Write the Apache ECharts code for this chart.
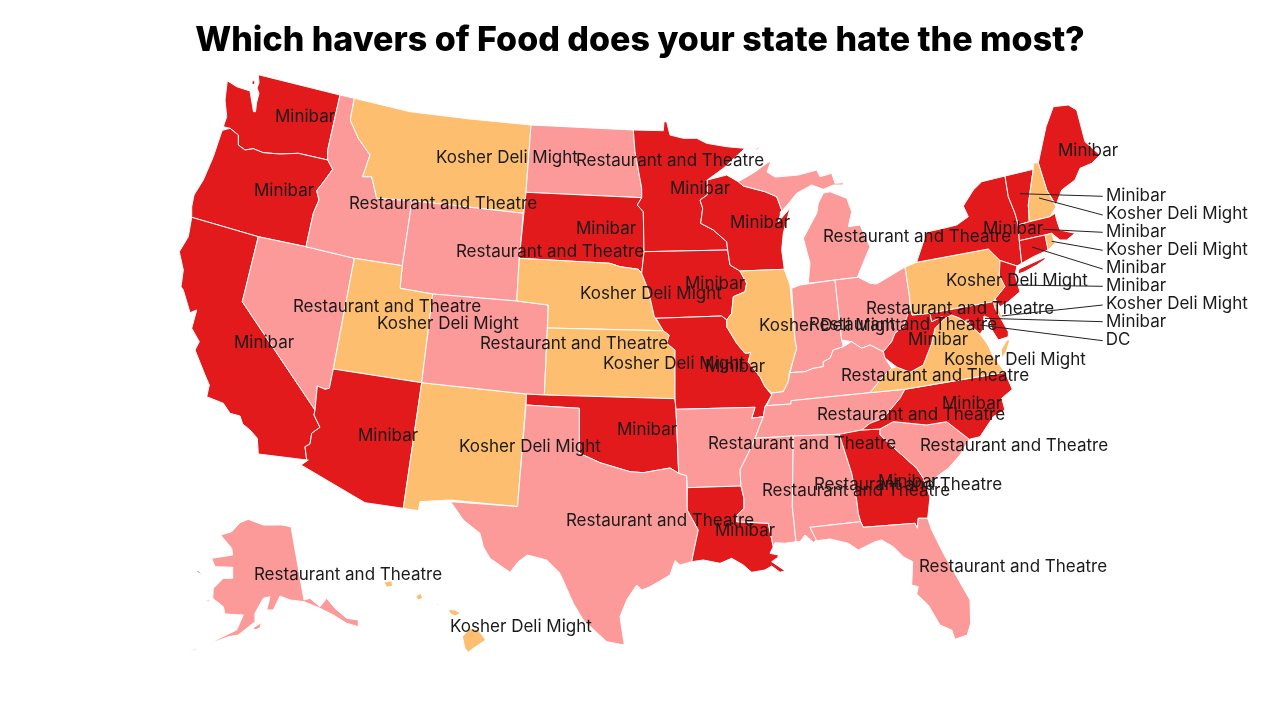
<!DOCTYPE html>
<html>
<head>
<meta charset="utf-8">
<title>Which havers of Food does your state hate the most?</title>
<style>
html,body{margin:0;padding:0;background:#fff}
#chart{width:1280px;height:720px}
</style>
<script src="https://cdn.jsdelivr.net/npm/echarts@6/dist/echarts.min.js"></script>
</head>
<body>
<div id="chart"></div>
<script>
var titleText = "Which havers of Food does your state hate the most?";
var M = "Minibar", K = "Kosher Deli Might", R = "Restaurant and Theatre";
var groupColors = {"Minibar":"#E31A1C", "Kosher Deli Might":"#FDBF6F", "Restaurant and Theatre":"#FB9A99", "DC":"#E31A1C"};

var stateCodes = ["WA","OR","CA","NV","ID","MT","WY","UT","AZ","NM","CO","ND","SD","NE","KS","OK","TX","MN","IA","MO","AR","LA","WI","IL","MI","IN","OH","KY","TN","MS","AL","GA","FL","SC","NC","VA","WV","PA","NY","ME","VT","NH","MA","RI","CT","NJ","DE","MD","DC","AK","HI"];
var stateGroups = [M,M,M,R,R,K,R,K,M,K,R,R,M,K,K,M,R,M,M,M,R,M,M,K,R,R,R,R,R,R,R,M,R,R,M,K,M,K,M,M,M,K,M,K,M,M,K,M,"DC",R,K];

// where each state's label sits (map space, same as the picture)
var labelAt = {WA:[305,117],OR:[284,191],CA:[264,343],NV:[387,307],ID:[443,204],MT:[507,158],WY:[550,252],UT:[448,324],AZ:[388,436],NM:[530,447],CO:[574,344],ND:[670,161],SD:[606,229],NE:[651,294],KS:[674,364],OK:[647,430],TX:[660,521],MN:[700,189],IA:[715,284],MO:[735,367],AR:[802,444],LA:[745,531],WI:[760,223],IL:[830,326],MI:[917,237],IN:[903,325],OH:[960,309],KY:[935,376],TN:[911,415],MS:[856,491],AL:[908,485],GA:[908,482],FL:[1013,567],SC:[1014,446],NC:[972,404],VA:[1015,360],WV:[938,340],PA:[1017,281],NY:[1013,229],ME:[1088,151],VT:[1136,196],NH:[1177,214],MA:[1136,232],RI:[1177,250],CT:[1136,268],NJ:[1136,286],DE:[1177,304],MD:[1136,322],DC:[1118,340],AK:[348,575],HI:[521,627]};

// leader lines for the small north east states: from state to label
var leaderStates = ["VT","NH","MA","RI","CT","NJ","DE","MD","DC"];
var leaderFrom = [[1020,193.7],[1039,198],[1043,229.3],[1051.7,241.3],[1032,247],[1010,285],[1001.7,316],[985,318.3],[980,325]];
var leaderTo = [[1102.7,196.3],[1102.7,215],[1102.7,232.3],[1102.7,250.3],[1102.7,269],[1102.7,286.3],[1102.7,305],[1102.7,321.7],[1102.7,340.7]];

// state outlines, x,y pairs, one string per ring
var stateRings = {
WA:["258.3,74.7 340,95 327.7,150 327.7,160 298.3,153.3 280,154 263.3,152.7 253.3,148.7 245,150 238.3,145 238.3,135 230,128.3 223.3,126.7 226.7,116.7 225,100 227.3,80.7 236.7,86.7 250,91 253.5,111.7 255.5,111.7 256.5,103 259,93.3 257,88 259,83","252,81 255,80.5 254.5,85 252,84"],
OR:["223.3,130 230,128.3 238.3,135 238.3,145 245,150 253.3,148.7 263.3,152.7 280,154 298.3,153.3 327.7,160 332.7,169.3 325,180 316.7,190.7 319,200 313.3,213.3 306,246.7 258.3,236.7 191.7,217.3 191.7,206.7 194,195 203.3,180 213.3,156.7 221.7,131.7"],
CA:["191.7,217.3 258.3,236.7 242.3,301.7 315,410 314,415 320,427.3 311.7,433.3 310,444 305,446.7 306.7,460 258.3,454 257.3,438.3 250,430 242.7,424 240,416 230,413.3 223.3,403.3 206.7,396.7 209.3,385 205,375 195,350 199.3,341.7 191.7,328.3 196.7,310 190,312.7 183.3,290 181,286.7 183.3,270 179.3,251.7 188.3,236.7"],
NV:["258.3,236.7 306,246.7 354.3,258.3 348.3,290 333.3,369 329.3,388.3 325,389.3 317.3,386 315,410 242.3,301.7"],
ID:["340,95 354.3,98.3 350.3,120 358.3,138.3 370,155 362.7,176.7 371.7,176.7 376.7,198.3 412,200.7 402.3,265.7 354.3,258.3 306,246.7 313.3,213.3 319,200 316.7,190.7 325,180 332.7,169.3 327.7,160 327.7,150"],
MT:["354.3,98.3 410,111.7 470,119 531,125 526,192.3 523.3,213.3 412,200.7 376.7,198.3 371.7,176.7 362.7,176.7 370,155 358.3,138.3 350.3,120"],
WY:["412,200.7 523.3,213.3 519.3,258.3 516.7,301 432.7,294 400,288.3 402.3,265.7"],
UT:["402.3,265.7 400,288.3 432.7,294 421.7,382.7 333.3,369 348.3,290 354.3,258.3"],
AZ:["333.3,369 421.7,382.7 403.3,508.3 365,502.7 301,465 308.3,460 306.7,460 305,446.7 310,444 311.7,433.3 320,427.3 314,415 315,410 317.3,386 325,389.3 329.3,388.3"],
NM:["421.7,382.7 526.5,394 517.5,506.5 450,500 420,501.7 418.3,510.7 403.3,508.3"],
CO:["432.7,294 516.7,301 548.3,305 544.3,395 526.5,394 421.7,382.7"],
ND:["531,125 633.3,130 635,151.7 641.7,188.3 641.7,197.7 526,192.3"],
SD:["526,192.3 641.7,197.7 637.3,205 643.3,211.7 644,251.7 641.7,273.3 638.3,269.3 620,266.7 610,263.3 519.3,258.3"],
NE:["519.3,258.3 610,263.3 620,266.7 638.3,269.3 641.7,273.3 648.3,290 654.3,316.7 663.3,330.7 547.5,328 548.3,305 516.7,301"],
KS:["547.5,328 663.3,330.7 669.3,335 666.7,343.3 675,350 675,398.7 544.3,395"],
OK:["526.5,394 544.3,395 675,398.7 676,409.3 678.7,473.3 670,468 643.3,472.7 630,471.7 613.3,466.7 600,462.7 583.3,455 579.3,453.3 579.3,408.3 526,405"],
TX:["526,405 579.3,408.3 579.3,453.3 583.3,455 600,462.7 613.3,466.7 630,471.7 643.3,472.7 670,468 678.7,473.3 686.7,475.7 687.3,510 698.3,530 694,550 691.7,561.7 680,565 675,560.7 670,575 650,586.7 641.7,590 636.7,585 626.7,600 620,616.7 624.3,645 606.7,641.7 583.3,620 573.3,603.3 560,573.3 546.7,560 527.3,555 518.3,561.7 510,572.3 490,558.3 483.3,546.7 480,533.3 463.3,520 450.7,501.7 517.5,506.5"],
MN:["633.3,130 663.3,130.7 664,121.7 666.7,121.7 670,135 683.3,138.3 696.7,138.3 706.7,143.3 726.7,146.7 745,148.3 723.3,168.3 707.3,180 707.3,195 700,200 702.7,208.3 700.7,223.3 713.3,230 726.7,241.7 727.7,250 644,251.7 643.3,211.7 637.3,205 641.7,197.7 641.7,188.3 635,151.7"],
IA:["644,251.7 727.7,250 730,265 740,271 746.7,283.3 745,291.7 733.3,296.7 731.7,313.3 726.7,320 721.7,316 656,318.3 654.3,316.7 648.3,290 641.7,273.3"],
MO:["656,318.3 721.7,316 726.7,320 726.7,326.7 736.7,343.3 745,353.3 750.7,352.7 748.3,361.7 760,376.7 765,386.7 771.7,395 765,406.7 763.3,416.7 751.7,418.3 755,407.3 676,409.3 675,398.7 675,350 666.7,343.3 669.3,335 663.3,330.7"],
AR:["676,409.3 755,407.3 751.7,418.3 763.3,416.7 755,438.3 748.3,453.3 740,470 741,486 687.3,487.7 686.7,475.7 678.7,473.3"],
LA:["687.3,487.7 741,486 744,498.3 744,508.3 737.3,515 736.7,521.7 768.3,523.3 773.3,546.7 770,553.3 778.3,555 778,557.3 771.7,561.7 785,570.7 780,572.3 771.7,566 765,570 751.7,572.3 743.3,565 731.7,558.3 720,563.3 703.3,560 691.7,561.7 694,550 698.3,530 687.3,510"],
WI:["707.3,180 726.7,175 738.3,181.7 743.3,186 765,191.7 776.7,196.7 781.7,210 778.3,221.7 790,208.3 783.3,233.3 781.7,250 784.3,269.3 740,271 730,265 727.7,250 726.7,241.7 713.3,230 700.7,223.3 702.7,208.3 700,200 707.3,195"],
IL:["740,271 784.3,269.3 790,285 795,340 796.7,348.3 793.3,360 789.3,373.3 788.3,381.7 783.3,391.7 771.7,393 765,386.7 760,376.7 748.3,361.7 750.7,352.7 745,353.3 736.7,343.3 726.7,326.7 726.7,320 731.7,313.3 733.3,296.7 745,291.7 746.7,283.3"],
MI:["823.3,193.3 830,191.7 846.7,198.3 851.7,211.7 848.3,226.7 860,225 870,246.7 861.7,266.7 857.3,277.3 808.3,283.3 810,263.3 803.3,238.3 816.7,213.3 818.3,203.3","738.3,181.7 755,172 767,163 771,161 767,172 775,177 780,176.7 798.3,175 816.7,170 820,176.7 831.7,173.3 835,183.3 843.3,182.7 843.3,185 833.3,185 823.3,189.3 811.7,185 796.7,193.3 790,201.7 780,213.3 781.7,210 776.7,196.7 765,191.7 743.3,186","754,150 761,145.5 757,150"],
IN:["791.7,288.3 800,285 835,280 841.7,340 843.3,346.7 833.3,350 830,358.3 823.3,361.7 823.3,366.7 813.3,368.3 805,371.7 790,372.7 793.3,360 796.7,348.3 795,340"],
OH:["835,280 858.3,277.3 870,283.3 876.7,284 905,267 909.3,295 910.5,307 908.3,313.3 903.3,326.7 895,333.3 891.7,341.7 883.3,351.7 870,345 861.7,348.3 851.7,341.7 841.7,340"],
KY:["771.7,395 771.7,393 783.3,391.7 788.3,381.7 790,372.7 805,371.7 813.3,368.3 823.3,366.7 823.3,361.7 830,358.3 833.3,350 843.3,346.7 851.7,341.7 861.7,348.3 870,345 883.3,351.7 885,358 891.7,368.3 881.7,378.3 870,392.7 791,400.7 791,404 766.7,405.7"],
TN:["766.7,405.7 791,404 791,400.7 870,392.7 905,389.3 900,398.3 883.3,418.3 870,423.3 861.7,430 839.3,434.3 793.3,436 755,438.3 763.3,416.7 765,406.7"],
MS:["755,438.3 793.3,436 792.3,506.7 796,541.7 785,543.3 775,542.7 773.3,546.7 768.3,523.3 736.7,521.7 737.3,515 744,508.3 744,498.3 741,486 740,470 748.3,453.3"],
AL:["793.3,436 839.3,434.3 851.7,473.3 856.7,500 858.3,513.3 860.7,521.7 810,527.3 816.7,540 813.3,542.3 805,535 800,541.7 796,541.7 792.3,506.7"],
GA:["839.3,434.3 861.7,430 880,429 880,435 898.3,451.7 916.7,468.3 923.3,478.3 930,496.7 927.7,518.3 918.3,518.3 917.3,528.3 915,523.3 863.3,527.3 860.7,521.7 858.3,513.3 856.7,500 851.7,473.3"],
FL:["810,527.3 860.7,521.7 863.3,527.3 915,523.3 917.3,528.3 918.3,518.3 927.7,518.3 931.7,530 943.3,553.3 956.7,576.7 970,600 970.7,623.3 967.3,635 955,639.3 951.7,630 940,625 928.3,605 916.7,594 918.3,586.7 911.7,585 912.7,561.7 903.3,556.7 893.3,546.7 881.7,540 875,541.7 858.3,550 848.3,543.3 830,539 816.7,540.7"],
SC:["880,429 893.3,421.7 926.7,425 946.7,421.7 969.3,439.3 960,455 948.3,468.3 936.7,476.7 928.3,486.7 930,496.7 923.3,478.3 916.7,468.3 898.3,451.7 880,435"],
NC:["861.7,430 870,423.3 883.3,418.3 900,398.3 905,389.3 1005,372.3 1012.3,389.3 1001.7,398.3 1005,410 993.3,416.7 980,436.7 969.3,439.3 946.7,421.7 926.7,425 893.3,421.7 880,429"],
VA:["870,392.7 881.7,378.3 891.7,368.3 896.7,367 910,372.3 923.3,365 931.7,343.3 935,328.3 945,318.3 951.7,315 960,318.3 970,325 980,334 988,345 993,356 1005,372.3 905,389.3","1007,340 1010,340 1006,352 1002,358 1001,350"],
WV:["910.5,307 912,315 930,313.3 931.7,321.7 941.7,316.7 945,318.3 935,328.3 931.7,343.3 923.3,365 910,372.3 896.7,367 885,358 883.3,351.7 891.7,341.7 895,333.3 903.3,326.7 908.3,313.3"],
PA:["905,267 916.7,262.3 988.3,249 1000,260.5 999.3,275 1005,286.7 996.7,298.3 993.3,301.7 930,313.3 912,315 910.5,307 909.3,295"],
NY:["917.3,260 926.7,232 943.3,228.3 956.7,225 968.3,216.7 963.3,206 973.3,190 981.7,181.7 1005,176 1008.3,196.7 1015,213.3 1018.3,225 1019.3,240 1021.7,263.3 1017,266 1000,260.5 988.3,249 916.7,262.3","1019,269 1044,257.7 1046,258.6 1036.7,265 1024,272 1018,274"],
ME:["1038.3,163 1046,126.7 1053.3,106.7 1068.3,105 1076.7,110 1085,141.7 1100,155 1091.7,163.3 1080,168.3 1075,180 1061.7,190 1056,205 1046.7,190"],
VT:["1005,176 1033.3,169.3 1031.7,180 1028.3,205 1029.3,221.7 1018.3,225 1015,213.3 1008.3,196.7"],
NH:["1033.3,163 1038.3,163 1046.7,190 1056,206.7 1050,216.7 1029.3,221.7 1028.3,205 1031.7,180 1033.3,169.3"],
MA:["1018.3,225 1029.3,221.7 1050,216.7 1055,213.3 1056.7,220 1060,230 1075,233.3 1066.7,240 1060,240 1051.7,233.3 1045,235 1019.3,240.7"],
RI:["1045,235 1051.7,233.3 1055,243.3 1048,250"],
CT:["1019.3,240.7 1045,235 1048,250 1033.3,256.7 1021.7,263.3"],
NJ:["1000,260.5 1017,266 1015,275 1020,291.7 1008,302 1000,306.7 995,299 1005,286.7 999.3,275"],
DE:["993.3,301.7 995,299 1001.7,316.7 1006.7,330 1008.3,331.7 995,308.3"],
MD:["930,313.3 993.3,301.7 995,308.3 1008.3,331.7 1008.3,336.7 998.3,340 992,330 989,318 984,316 983,330 980,334 970,325 960,318.3 951.7,315 945,318.3 941.7,316.7 931.7,321.7"],
DC:["966,320 969,320 969,323 966,323"],
AK:["291,526.7 304,600 310,598.3 320,606.7 326.7,598.3 335,608.3 346.7,618.3 358.3,620 358.3,626.7 346.7,623.3 333.3,615 320,608.3 304,601.7 290,600 280,596 273.3,610 266.7,610 270,596.7 263.3,598.3 255,613.3 255,621.7 238.3,635 228.3,636.7 215,641.7 208.3,644.3 220,638 236.7,630 243.3,615 225,614 223.3,606.7 212.7,598.3 213.3,588.3 223.3,578.3 232.7,578.3 232.7,567.3 215,566.7 211.7,558.3 232.7,555 231.7,548.3 220.7,535 231.7,531.7 240,522.7 248.3,519.3 263.3,525 281.7,525","195,570 199,571 202,574.5 198,573","205,600 210,600 209,602","253,628 261.5,622.5 260,628 255,630","188,652 197,648 196,650"],
HI:["462.3,636.7 470,628.3 478.3,630 485.7,640 473.3,648.3 468.3,652.3 465,648.3","448.3,609.3 455,610 460.7,613.3 455,616 450,613.3","415.7,596 420.7,593.3 422.7,598.3 418.3,600","384,582.3 391.7,580.7 392.7,586 386.7,587.3","435,604 440,604 438,605.3"]
};

function parseRing(s){
    var pts = s.split(" ").map(function(p){
        var xy = p.split(",");
        return [parseFloat(xy[0]),parseFloat(xy[1])];
    });
    pts.push(pts[0]);
    return pts;
}

var features = stateCodes.map(function(code){
    return {
        type:"Feature",
        properties:{name:code,cp:labelAt[code]},
        geometry:{
            type:"MultiPolygon",
            coordinates:stateRings[code].map(function(s){return [parseRing(s)]})
        }
    };
});
echarts.registerMap("usa",{type:"FeatureCollection",features:features});

// map space is the picture itself, no lat/lon involved
var flat = {project:function(p){return p},unproject:function(p){return p}};
var view = [[0,0],[1280,720]];

var chart = echarts.init(document.getElementById("chart"),null,{width:1280,height:720});
chart.setOption({
    animation:false,
    backgroundColor:"#fff",
    title:{
        text:titleText,
        left:"center",
        top:19,
        textStyle:{fontFamily:"Inter",fontWeight:800,fontSize:34,color:"#000"}
    },
    geo:{
        map:"usa",
        projection:flat,
        boundingCoords:view,
        left:0,top:0,right:0,bottom:0,
        roam:false,
        silent:true,
        label:{show:false},
        itemStyle:{areaColor:"rgba(0,0,0,0)",borderWidth:0},
        emphasis:{disabled:true}
    },
    series:[
        {
            type:"map",
            map:"usa",
            projection:flat,
            boundingCoords:view,
            left:0,top:0,right:0,bottom:0,
            roam:false,
            silent:true,
            selectedMode:false,
            label:{
                show:true,
                fontFamily:"Inter",
                fontSize:17,
                color:"#1a1a1a",
                formatter:function(p){return p.data.group}
            },
            itemStyle:{borderColor:"#fff",borderWidth:1},
            emphasis:{disabled:true},
            data:stateCodes.map(function(code,i){
                return {
                    name:code,
                    group:stateGroups[i],
                    value:i,
                    itemStyle:{areaColor:groupColors[stateGroups[i]]}
                };
            })
        },
        {
            type:"lines",
            coordinateSystem:"geo",
            silent:true,
            z:5,
            symbol:"none",
            lineStyle:{color:"#222",width:1,opacity:1,curveness:0},
            data:leaderStates.map(function(code,i){
                return {name:code,coords:[leaderFrom[i],leaderTo[i]]};
            })
        }
    ]
});
</script>
</body>
</html>
